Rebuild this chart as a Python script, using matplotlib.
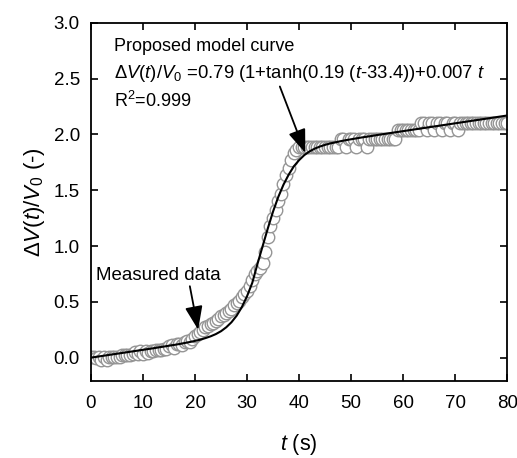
import matplotlib
matplotlib.use("Agg")
from matplotlib import pyplot
import numpy as np

t_meas = np.arange(0, 80.5, 0.5)
v_meas = [
	0.01, 0.01, 0.00, 0.01, -0.02, 0.01, -0.02, 0.01, 0.01, 0.01,   # 0 - 4.5
	0.01, 0.01, 0.02, 0.02, 0.02, 0.02, 0.03, 0.05, 0.03, 0.06,     # 5 - 9.5
	0.03, 0.06, 0.04, 0.06, 0.06, 0.07, 0.07, 0.07, 0.08, 0.08,     # 10 - 14.5
	0.10, 0.11, 0.09, 0.12, 0.12, 0.11, 0.14, 0.15, 0.14, 0.17,     # 15 - 19.5
	0.19, 0.21, 0.23, 0.25, 0.27, 0.28, 0.30, 0.31, 0.33, 0.35,     # 20 - 24.5
	0.37, 0.38, 0.40, 0.42, 0.44, 0.47, 0.49, 0.51, 0.54, 0.57,     # 25 - 29.5
	0.60, 0.64, 0.70, 0.75, 0.78, 0.80, 0.85, 0.95, 1.08, 1.18,     # 30 - 34.5
	1.25, 1.32, 1.40, 1.47, 1.56, 1.64, 1.70, 1.77, 1.83, 1.86,     # 35 - 39.5
	1.89, 1.89, 1.89, 1.89, 1.89, 1.89, 1.89, 1.89, 1.89, 1.89,     # 40 - 44.5
	1.89, 1.89, 1.89, 1.89, 1.89, 1.89, 1.96, 1.96, 1.89, 1.96,     # 45 - 49.5
	1.96, 1.96, 1.89, 1.96, 1.96, 1.96, 1.89, 1.96, 1.96, 1.96,     # 50 - 54.5
	1.96, 1.96, 1.96, 1.96, 1.96, 1.96, 1.96, 1.96, 2.04, 2.04,     # 55 - 59.5
	2.04, 2.04, 2.04, 2.04, 2.04, 2.04, 2.04, 2.10, 2.10, 2.04,     # 60 - 64.5
	2.10, 2.10, 2.04, 2.10, 2.10, 2.04, 2.10, 2.10, 2.04, 2.10,     # 65 - 69.5
	2.10, 2.04, 2.10, 2.10, 2.10, 2.10, 2.10, 2.10, 2.10, 2.10,     # 70 - 74.5
	2.10, 2.10, 2.10, 2.10, 2.10, 2.10, 2.10, 2.10, 2.10, 2.10,     # 75 - 79.5
	2.10,                                                           # 80
]

# model curve, every 1 s
t_model = np.arange(0, 81, 1)
v_model = [
	0.000, 0.007, 0.014, 0.021, 0.028, 0.035, 0.042, 0.049, 0.056, 0.063,
	0.070, 0.077, 0.084, 0.092, 0.099, 0.107, 0.114, 0.122, 0.131, 0.140,
	0.150, 0.161, 0.175, 0.191, 0.211, 0.237, 0.272, 0.317, 0.376, 0.453,
	0.551, 0.670, 0.840, 1.000, 1.160, 1.310, 1.440, 1.550, 1.640, 1.715,
	1.770, 1.815, 1.848, 1.873, 1.892, 1.907, 1.920, 1.930, 1.940, 1.949,
	1.957, 1.965, 1.973, 1.980, 1.987, 1.995, 2.002, 2.009, 2.016, 2.023,
	2.030, 2.037, 2.044, 2.051, 2.058, 2.065, 2.072, 2.079, 2.086, 2.093,
	2.100, 2.107, 2.114, 2.121, 2.128, 2.135, 2.142, 2.149, 2.156, 2.163,
	2.170,
]

x_ticks = [0, 10, 20, 30, 40, 50, 60, 70, 80]
y_ticks = [0.0, 0.5, 1.0, 1.5, 2.0, 2.5, 3.0]

pyplot.rcParams['font.family'] = ['Liberation Sans', 'DejaVu Sans']
pyplot.rcParams['mathtext.fontset'] = 'custom'
pyplot.rcParams['mathtext.rm'] = 'Liberation Sans'
pyplot.rcParams['mathtext.it'] = 'Liberation Sans:italic'
pyplot.rcParams['mathtext.bf'] = 'Liberation Sans:bold'

fig = pyplot.figure(figsize=(5.17, 4.58), dpi=100)
ax = fig.add_axes([0.176, 0.168, 0.805, 0.782])

ax.plot(t_meas, v_meas, linestyle='none', marker='o', markersize=9,
		markerfacecolor='white', markeredgecolor='#959595', markeredgewidth=1.0)
ax.plot(t_model, v_model, color='k', lw=1.5)

ax.set_xlim(0, 80)
ax.set_ylim(-0.21, 3.0)
ax.set_xticks(x_ticks)
ax.set_yticks(y_ticks)
ax.set_yticklabels(['%.1f' % y for y in y_ticks])
ax.tick_params(direction='in', length=5, width=1.2, labelsize=13.5, pad=8,
			   top=True, right=True)
ax.tick_params(axis='x', pad=10)
for s in ax.spines.values():
	s.set_linewidth(1.3)

ax.set_xlabel(r'$t$ (s)', fontsize=15.5)
ax.set_ylabel(r'$\Delta V(t)/V_{\mathit{0}}$ (-)', fontsize=16)
ax.xaxis.set_label_coords(0.5, -0.143)
ax.yaxis.set_label_coords(-0.105, 0.5)

ax.text(4.4, 2.79, 'Proposed model curve', fontsize=13, va='center')
ax.text(4.4, 2.55, r'$\Delta V(t)/V_{\mathit{0}}$ =0.79 (1+tanh(0.19 ($t$-33.4))+0.007 $t$',
		fontsize=13.3, va='center')
ax.text(4.4, 2.30, r'R$^2$=0.999', fontsize=13, va='center')
ax.text(1.0, 0.74, 'Measured data', fontsize=13.5, va='center')

arrow = dict(arrowstyle='-|>,head_length=0.8,head_width=0.3', color='k', lw=1.3,
			 mutation_scale=18, shrinkA=0, shrinkB=0)
ax.annotate('', xy=(41.2, 1.835), xytext=(36.3, 2.43), arrowprops=arrow)
ax.annotate('', xy=(20.6, 0.25), xytext=(19.0, 0.64), arrowprops=arrow)

pyplot.savefig('out.png', dpi=100)
